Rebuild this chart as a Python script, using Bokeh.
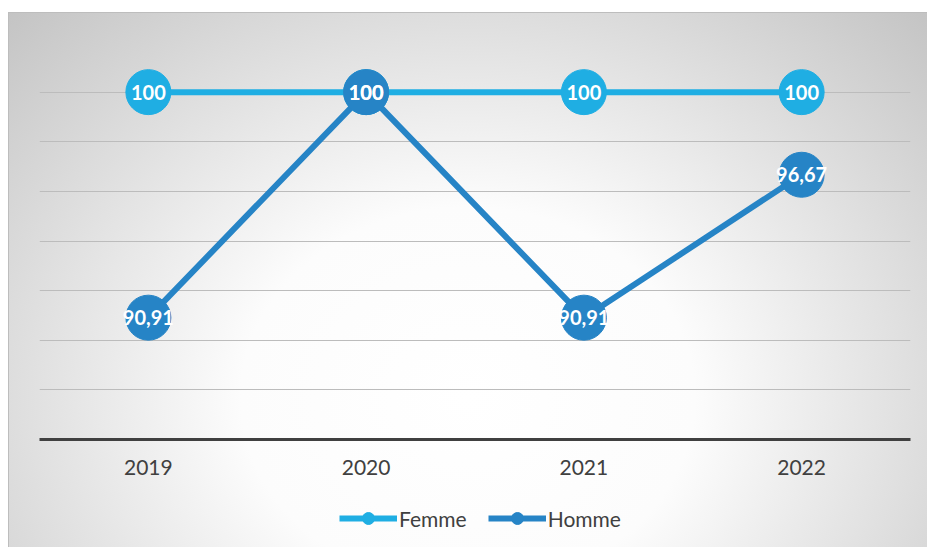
from bokeh.plotting import figure
from bokeh.layouts import column
from bokeh.models import FixedTicker, Legend, LegendItem, ColumnDataSource, InlineStyleSheet, Range1d, FactorRange
from bokeh.core.properties import value
from bokeh.embed import file_html
from bokeh.resources import INLINE

years = ["2019", "2020", "2021", "2022"]
femme = [100, 100, 100, 100]
homme = [90.91, 100, 90.91, 96.67]
femme_labels = ["100", "100", "100", "100"]
homme_labels = ["90,91", "100", "90,91", "96,67"]
series_names = ["Femme", "Homme"]

FEMME_C = "#1FAEE3"
HOMME_C = "#2684C6"
FONT = "Lato"

p = figure(x_range=years, y_range=(86, 102), width=927, height=490,
           output_backend="svg", toolbar_location=None,
           min_border_left=39, min_border_right=17, min_border_top=42, min_border_bottom=51)
p.border_fill_color = None
p.background_fill_color = None
p.outline_line_color = None

p.yaxis.visible = False
p.xgrid.grid_line_color = None
p.ygrid.ticker = FixedTicker(ticks=[88, 90, 92, 94, 96, 98, 100, 102])
p.ygrid.grid_line_color = "#bcbcbc"
p.ygrid.grid_line_width = 1

ax = p.xaxis[0]
ax.axis_line_color = "#404040"
ax.axis_line_width = 3
ax.major_tick_line_color = None
ax.minor_tick_line_color = None
ax.major_label_standoff = 14
ax.major_label_text_font = FONT
ax.major_label_text_font_size = "21px"
ax.major_label_text_color = "#404040"

src = ColumnDataSource(dict(x=years, f=femme, h=homme, fl=femme_labels, hl=homme_labels))

p.line("x", "f", source=src, line_color=FEMME_C, line_width=6)
p.scatter("x", "f", source=src, size=45, fill_color=FEMME_C, line_color=FEMME_C)
p.line("x", "h", source=src, line_color=HOMME_C, line_width=6)
p.scatter("x", "h", source=src, size=45, fill_color=HOMME_C, line_color=HOMME_C)

p.text("x", "f", text="fl", source=src, text_align="center", text_baseline="middle",
       text_color="white", text_font=value(FONT), text_font_style="bold", text_font_size="20px")
p.text("x", "h", text="hl", source=src, text_align="center", text_baseline="middle",
       text_color="white", text_font=value(FONT), text_font_style="bold", text_font_size="20px")

# legend strip: same series, drawn outside its visible range so only the legend shows
lg = figure(width=927, height=57, x_range=FactorRange(*years), y_range=Range1d(0, 1),
            output_backend="svg", toolbar_location=None,
            x_axis_location=None, y_axis_location=None, min_border=0)
lg.border_fill_color = None
lg.background_fill_color = None
lg.outline_line_color = None
lg.grid.visible = False
lf_l = lg.line("x", "f", source=src, line_color=FEMME_C, line_width=6)
lf_m = lg.scatter("x", "f", source=src, size=45, fill_color=FEMME_C, line_color=FEMME_C)
lh_l = lg.line("x", "h", source=src, line_color=HOMME_C, line_width=6)
lh_m = lg.scatter("x", "h", source=src, size=45, fill_color=HOMME_C, line_color=HOMME_C)

legend = Legend(items=[LegendItem(label=series_names[0], renderers=[lf_l, lf_m]),
                       LegendItem(label=series_names[1], renderers=[lh_l, lh_m])],
                orientation="horizontal", location=(300, 14),
                glyph_width=58, glyph_height=30, label_standoff=2, spacing=21,
                label_text_font=FONT, label_text_font_size="21px", label_text_color="#404040",
                background_fill_alpha=0, border_line_color=None, padding=0, margin=0)
lg.add_layout(legend)

layout = column(p, lg, spacing=0)
layout.stylesheets = [InlineStyleSheet(css=""":host {
  background:
    radial-gradient(ellipse farthest-corner at 50% 72%, #ffffff 0%, #fcfcfc 35%, #c4c4c4 100%) 9px 13px / 918px 534px no-repeat,
    linear-gradient(#bdbdbd, #bdbdbd) 8px 12px / 919px 535px no-repeat,
    #ffffff;
}""")]

open("out.html", "w").write(file_html(layout, INLINE))
